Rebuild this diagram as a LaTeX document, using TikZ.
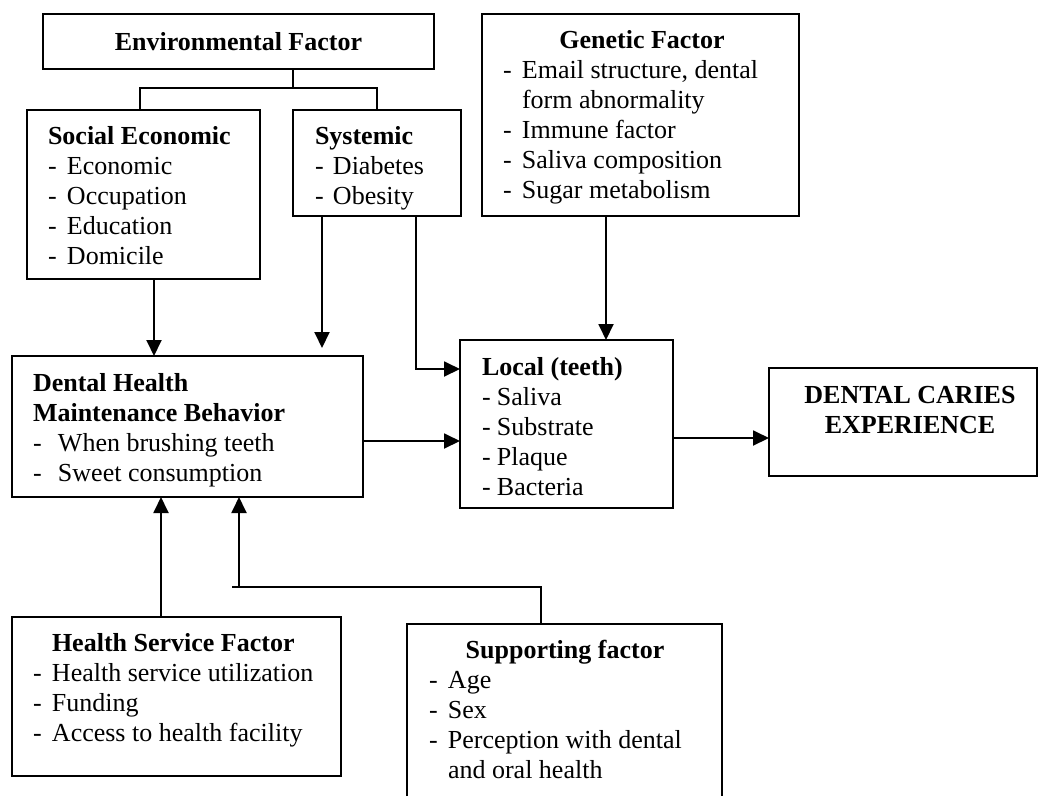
\documentclass[tikz,border=0pt]{standalone}
\usepackage{fontspec}
\setmainfont{Liberation Serif}
\usetikzlibrary{arrows.meta}
\newcommand\mystrut{\rule{0pt}{20pt}}
\newcommand\litem[1]{\makebox[19pt][l]{-}#1}
\begin{document}
\begin{tikzpicture}[x=1pt,y=-1pt,
  every path/.style={line width=1.9pt},
  box/.style={draw, line width=1.9pt, rectangle, inner sep=0pt, outer sep=0pt, anchor=north west},
  txt/.style={inner sep=0pt, outer sep=0pt, anchor=north west, align=left, font=\fontsize{26}{30}\selectfont},
  ttl/.style={inner sep=0pt, outer sep=0pt, anchor=base, font=\fontsize{26}{30}\selectfont\bfseries},
  arr/.style={-{Triangle[length=16pt,width=15pt]}}]
\useasboundingbox (0,0) rectangle (1040,796);

% boxes
\node[box, minimum width=391pt, minimum height=55pt]  (env) at (43,14) {};
\node[box, minimum width=233pt, minimum height=169pt] (soc) at (27,110) {};
\node[box, minimum width=168pt, minimum height=106pt] (sys) at (293,110) {};
\node[box, minimum width=317pt, minimum height=202pt] (gen) at (482,14) {};
\node[box, minimum width=351pt, minimum height=141pt] (dhm) at (12,356) {};
\node[box, minimum width=213pt, minimum height=168pt] (loc) at (460,340) {};
\node[box, minimum width=268pt, minimum height=108pt] (dce) at (769,368) {};
\node[box, minimum width=329pt, minimum height=159pt] (hsf) at (12,617) {};
\node[box, draw=none, minimum width=315pt, minimum height=172pt] (sup) at (407,624) {};
\draw (sup.south west) -- (sup.north west) -- (sup.north east) -- (sup.south east);

% texts
\node[ttl] (envt) at (238.5,50) {Environmental Factor};
\node[txt] (soct) at (48,124) {\mystrut\textbf{Social Economic}\\ \litem{Economic}\\ \litem{Occupation}\\ \litem{Education}\\ \litem{Domicile}};
\node[txt] (syst) at (315,124) {\mystrut\textbf{Systemic}\\ \makebox[18pt][l]{-}Diabetes\\ \makebox[18pt][l]{-}Obesity};
\node[ttl] (gent) at (642,48) {Genetic Factor};
\node[txt] (geni) at (503,58) {\mystrut\litem{Email structure, dental}\\ \hspace*{19pt}form abnormality\\ \litem{Immune factor}\\ \litem{Saliva composition}\\ \litem{Sugar metabolism}};
\node[txt] (dhmt) at (33,371) {\mystrut\textbf{Dental Health}\\ \textbf{Maintenance Behavior}\\ \makebox[25pt][l]{-}When brushing teeth\\ \makebox[25pt][l]{-}Sweet consumption};
\node[txt] (loct) at (482,355) {\mystrut\textbf{Local (teeth)}\\ \makebox[15pt][l]{-}Saliva\\ \makebox[15pt][l]{-}Substrate\\ \makebox[15pt][l]{-}Plaque\\ \makebox[15pt][l]{-}Bacteria};
\node[txt, anchor=north, align=center, font=\fontsize{26}{30}\selectfont\bfseries] (dcet) at (910,383) {\mystrut DENTAL CARIES\\ EXPERIENCE};
\node[txt] (hsft) at (33,631) {\mystrut\hspace*{19pt}\textbf{Health Service Factor}\\ \litem{Health service utilization}\\ \litem{Funding}\\ \litem{Access to health facility}};
\node[ttl] (supt) at (565,658) {Supporting factor};
\node[txt] (supi) at (429,668) {\mystrut\litem{Age}\\ \litem{Sex}\\ \litem{Perception with dental}\\ \hspace*{19pt}and oral health};

% helper coordinates
\coordinate (ej) at (293,88);
\coordinate (xs) at (140,0);
\coordinate (xa) at (154,0);
\coordinate (sa) at (322,348);
\coordinate (sb) at (416,369);
\coordinate (xg) at (606,0);
\coordinate (yd) at (0,441);
\coordinate (yl) at (0,438);
\coordinate (xh) at (161,0);
\coordinate (s1) at (541,587);
\coordinate (s2) at (232,587);
\coordinate (s3) at (239,587);

% connectors
\draw (ej |- env.south) -- (ej);
\draw (xs |- soc.north) |- (ej) -| (sys.north);
\draw[arr] (xa |- soc.south) -- (xa |- dhm.north);
\draw[arr] (sa |- sys.south) -- (sa);
\draw[arr] (sb |- sys.south) -- (sb) -- (sb -| loc.west);
\draw[arr] (xg |- gen.south) -- (xg |- loc.north);
\draw[arr] (dhm.east |- yd) -- (loc.west |- yd);
\draw[arr] (loc.east |- yl) -- (dce.west |- yl);
\draw[arr] (xh |- hsf.north) -- (xh |- dhm.south);
\draw (s1 |- sup.north) -- (s1) -- (s2);
\draw[arr] (s3) -- (s3 |- dhm.south);
\end{tikzpicture}
\end{document}
